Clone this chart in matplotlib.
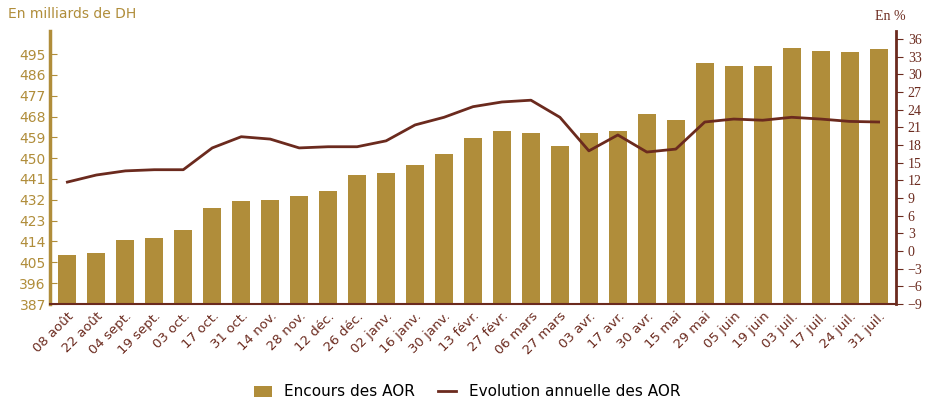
import numpy as np
from matplotlib import pyplot as plt

dates = ["08 août", "22 août", "04 sept.", "19 sept.", "03 oct.", "17 oct.", "31 oct.",
         "14 nov.", "28 nov.", "12 déc.", "26 déc.", "02 janv.", "16 janv.", "30 janv.",
         "13 févr.", "27 févr.", "06 mars", "27 mars", "03 avr.", "17 avr.", "30 avr.",
         "15 mai", "29 mai", "05 juin", "19 juin", "03 juil.", "17 juil.", "24 juil.", "31 juil."]
encours = [408.2, 409.1, 414.6, 415.5, 419.0, 428.5, 431.5, 432.0, 433.7, 435.8, 442.7,
           443.6, 447.0, 451.8, 458.7, 461.7, 460.9, 455.3, 461.0, 461.7, 469.0, 466.5,
           491.0, 490.0, 490.0, 497.6, 496.3, 495.9, 497.2]
evolution = [11.7, 12.9, 13.6, 13.8, 13.8, 17.5, 19.4, 19.0, 17.5, 17.7, 17.7, 18.7, 21.4,
             22.7, 24.5, 25.3, 25.6, 22.7, 17.0, 19.7, 16.8, 17.3, 21.9, 22.4, 22.2, 22.7,
             22.4, 22.0, 21.9]
left_ticks = list(range(387, 496, 9))
right_ticks = list(range(-9, 37, 3))

gold = "#b08d3a"
brown = "#6b2a1e"

fig = plt.figure(figsize=(9.34, 4.17), dpi=100)
ax = fig.add_axes([50 / 934, 1 - 304 / 417, 846 / 934, 273 / 417])
x = np.arange(len(dates))
bars = ax.bar(x, encours, width=0.62, color=gold, bottom=0)
ax.set_ylim(387, 387 + 273 * 0.432)
ax.set_xlim(-0.6, len(dates) - 0.4)
ax.set_yticks(left_ticks)
ax.tick_params(axis="y", colors=gold, labelsize=10, direction="in", length=5, pad=3)
ax.yaxis.set_tick_params(labelcolor=gold)
ax.set_xticks(x)
ax.set_xticklabels(dates, rotation=45, ha="right", rotation_mode="anchor",
                   color=brown, fontsize=9.5)
ax.tick_params(axis="x", length=0, pad=4)
for s in ["top", "right"]:
    ax.spines[s].set_visible(False)
ax.spines["left"].set_color(gold)
ax.spines["left"].set_linewidth(2.5)
ax.spines["bottom"].set_color(brown)
ax.spines["bottom"].set_linewidth(1.5)
for t in ax.get_yticklabels():
    t.set_horizontalalignment("right")

ax2 = ax.twinx()
line, = ax2.plot(x, evolution, color=brown, lw=2)
ax2.set_ylim(-9, -9 + 273 / 5.89)
ax2.set_yticks(right_ticks)
ax2.tick_params(axis="y", colors=brown, labelsize=10, length=5)
for t in ax2.get_yticklabels():
    t.set_family("Liberation Serif")
for s in ["top", "left", "bottom"]:
    ax2.spines[s].set_visible(False)
ax2.spines["right"].set_color(brown)
ax2.spines["right"].set_linewidth(2)

fig.text(8 / 934, 1 - 14 / 417, "En milliards de DH", color=gold, fontsize=10, va="center")
fig.text(875 / 934, 1 - 16 / 417, "En %", color=brown, fontsize=10, va="center",
         family="Liberation Serif")
fig.legend([bars, line], ["Encours des AOR", "Evolution annuelle des AOR"],
           loc="center", bbox_to_anchor=(0.5, 1 - 392 / 417), ncol=2, frameon=False,
           fontsize=11, handlelength=1.2, columnspacing=1.5)
fig.savefig("out.png")
